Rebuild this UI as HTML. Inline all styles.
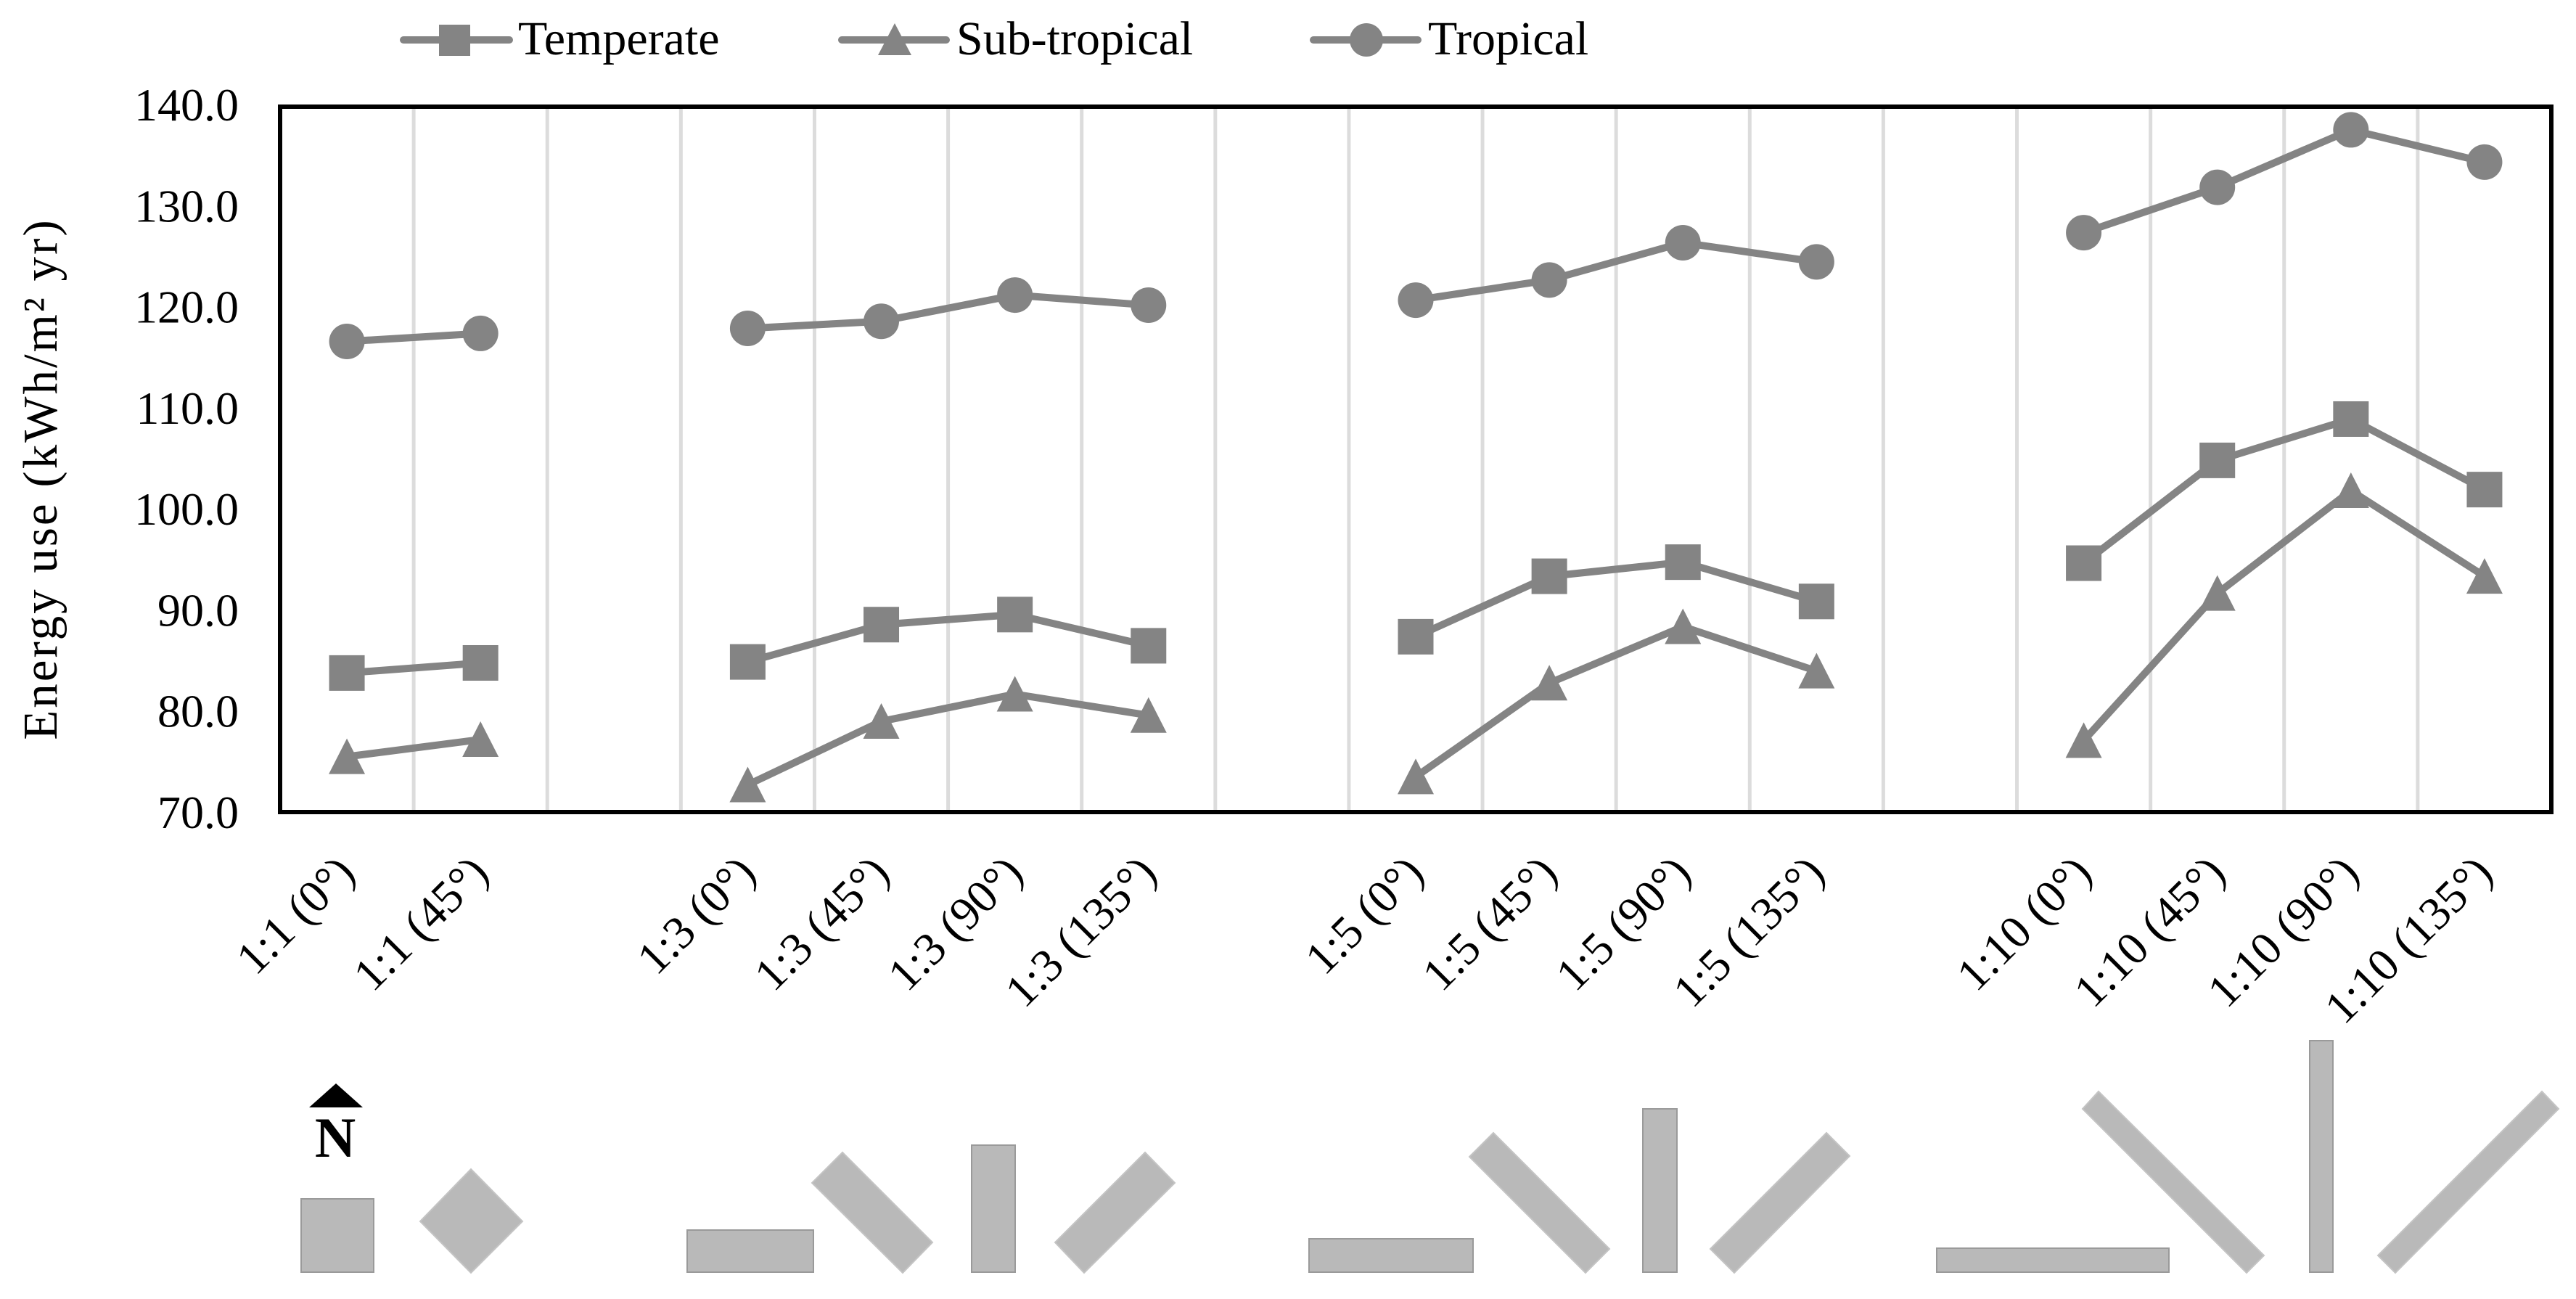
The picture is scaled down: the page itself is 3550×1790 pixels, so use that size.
<!DOCTYPE html>
<html lang="en">
<head>
<meta charset="utf-8">
<title>Energy use by aspect ratio and orientation</title>
<style>
html,body{margin:0;padding:0;background:#fff;}
svg{display:block;font-family:"Liberation Serif",serif;}
</style>
</head>
<body>
<svg id="chart" xmlns="http://www.w3.org/2000/svg" width="3550" height="1790" viewBox="0 0 3550 1790">
  <rect x="0" y="0" width="3550" height="1790" fill="#ffffff"/>
  <g id="grid"></g>
  <g id="series"></g>
  <rect x="386" y="147" width="3130" height="972" fill="none" stroke="#000" stroke-width="6"/>
  <g id="yticks"></g>
  <g id="xticks"></g>
  <text transform="translate(78,660) rotate(-90)" text-anchor="middle" font-size="67" letter-spacing="3" fill="#000">Energy use (kWh/m² yr)</text>

  <g>
    <g>
      <line x1="556" y1="55" x2="702" y2="55" stroke="#848484" stroke-width="10" stroke-linecap="round"/>
      <rect x="605" y="34" width="43" height="43" fill="#848484"/>
      <text x="714" y="75" font-size="66" fill="#000">Temperate</text>
    </g>
    <g>
      <line x1="1160" y1="55" x2="1304" y2="55" stroke="#848484" stroke-width="10" stroke-linecap="round"/>
      <polygon points="1233,32 1256,76 1210,76" fill="#848484"/>
      <text x="1318" y="75" font-size="66" fill="#000">Sub-tropical</text>
    </g>
    <g>
      <line x1="1810" y1="55" x2="1954" y2="55" stroke="#848484" stroke-width="10" stroke-linecap="round"/>
      <circle cx="1883" cy="55" r="23" fill="#848484"/>
      <text x="1968" y="75" font-size="66" fill="#000">Tropical</text>
    </g>
  </g>

  <g>
    <polygon points="463,1493 500,1526 426,1526" fill="#000"/>
    <text x="462" y="1594" text-anchor="middle" font-size="78" font-weight="bold" fill="#000">N</text>
  </g>

  <g fill="#b9b9b9" stroke="#9a9a9a" stroke-width="2">
    <rect x="415" y="1652" width="100" height="101"/>
    <polygon points="649,1611 720,1683 649,1754 579,1683" stroke="#c4c4c4"/>
    <rect x="947" y="1695" width="174" height="58"/>
    <polygon points="1161,1588 1285,1712 1244,1754 1119,1630" stroke="#c4c4c4"/>
    <rect x="1339" y="1578" width="60" height="175"/>
    <polygon points="1578,1588 1619,1630 1494,1754 1454,1712" stroke="#c4c4c4"/>
    <rect x="1804" y="1707" width="226" height="46"/>
    <polygon points="2058,1561 2218,1721 2185,1754 2025,1594" stroke="#c4c4c4"/>
    <rect x="2264" y="1528" width="47" height="225"/>
    <polygon points="2517,1561 2549,1593 2390,1754 2357,1721" stroke="#c4c4c4"/>
    <rect x="2669" y="1720" width="320" height="33"/>
    <polygon points="2892,1504 3120,1730 3096,1754 2870,1528" stroke="#c4c4c4"/>
    <rect x="3183" y="1434" width="32" height="319"/>
    <polygon points="3503,1504 3526,1528 3301,1754 3277,1730" stroke="#c4c4c4"/>
  </g>
</svg>
<script>
var categories = ["1:1 (0°)","1:1 (45°)","","1:3 (0°)","1:3 (45°)","1:3 (90°)","1:3 (135°)","","1:5 (0°)","1:5 (45°)","1:5 (90°)","1:5 (135°)","","1:10 (0°)","1:10 (45°)","1:10 (90°)","1:10 (135°)"];
var temperate = [83.8,84.8,null,84.9,88.6,89.6,86.5,null,87.4,93.4,94.8,90.9,null,94.7,104.9,109.0,102.0];
var subTropical = [75.5,77.2,null,72.7,79.0,81.7,79.6,null,73.5,82.8,88.4,84.0,null,77.1,91.7,101.9,93.4];
var tropical = [116.7,117.5,null,118.0,118.7,121.3,120.3,null,120.8,122.8,126.5,124.6,null,127.5,132.0,137.7,134.5];
var yTicks = [70,80,90,100,110,120,130,140];

var NS = 'http://www.w3.org/2000/svg';
var LEFT = 386, RIGHT = 3516, TOP = 147, BOTTOM = 1119, YMIN = 70, YMAX = 140;
var COLOR = '#848484';
var step = (RIGHT - LEFT) / categories.length;
function xScale(i) { return LEFT + (i + 0.5) * step; }
function yScale(v) { return BOTTOM - (v - YMIN) / (YMAX - YMIN) * (BOTTOM - TOP); }
function make(tag, parent) {
  var el = document.createElementNS(NS, tag);
  parent.appendChild(el);
  return el;
}

var gridLayer = document.getElementById('grid');
for (var g = 1; g < categories.length; g++) {
  var gl = make('line', gridLayer);
  
  
  gl.setAttribute('x1', LEFT + g * step);
  gl.setAttribute('x2', LEFT + g * step);
  gl.setAttribute('y1', TOP);
  gl.setAttribute('y2', BOTTOM);
  gl.setAttribute('stroke', '#dcdcdc');
  gl.setAttribute('stroke-width', '5');
}

var yLayer = document.getElementById('yticks');
yTicks.forEach(function (t) {
  var el = make('text', yLayer);
  
  
  el.setAttribute('x', 329);
  el.setAttribute('y', yScale(t) + 22 - (t - YMIN) / (YMAX - YMIN) * 3);
  el.setAttribute('text-anchor', 'end');
  el.setAttribute('font-size', '64');
  el.setAttribute('fill', '#000');
  el.textContent = t.toFixed(1);
});

var xLayer = document.getElementById('xticks');
categories.forEach(function (c, i) {
  if (!c) return;
  var el = make('text', xLayer);
  
  
  el.setAttribute('transform', 'translate(' + (xScale(i) + 14) + ',1206) rotate(-45)');
  el.setAttribute('text-anchor', 'end');
  el.setAttribute('font-size', '64');
  el.setAttribute('fill', '#000');
  el.textContent = c;
});

function drawSeries(name, values, marker) {
  var layer = document.getElementById('series');
  var group = make('g', layer);
  
  
  var run = [];
  function flush() {
    if (run.length > 1) {
      var pl = make('polyline', group);
      
      
      pl.setAttribute('points', run.join(' '));
      pl.setAttribute('fill', 'none');
      pl.setAttribute('stroke', COLOR);
      pl.setAttribute('stroke-width', '10');
      pl.setAttribute('stroke-linejoin', 'round');
    }
    run = [];
  }
  for (var i = 0; i < values.length; i++) {
    if (values[i] === null) { flush(); continue; }
    run.push(xScale(i) + ',' + yScale(values[i]));
  }
  flush();
  for (var k = 0; k < values.length; k++) {
    if (values[k] === null) continue;
    var x = xScale(k), y = yScale(values[k]), m;
    if (marker === 'square') {
      m = make('rect', group);
      m.setAttribute('x', x - 24.5);
      m.setAttribute('y', y - 24.5);
      m.setAttribute('width', 49);
      m.setAttribute('height', 49);
    } else if (marker === 'triangle') {
      m = make('polygon', group);
      m.setAttribute('points', x + ',' + (y - 25) + ' ' + (x + 25) + ',' + (y + 24) + ' ' + (x - 25) + ',' + (y + 24));
    } else {
      m = make('circle', group);
      m.setAttribute('cx', x);
      m.setAttribute('cy', y);
      m.setAttribute('r', 24.5);
    }
    
    
    m.setAttribute('fill', COLOR);
  }
}
drawSeries('temperate', temperate, 'square');
drawSeries('sub-tropical', subTropical, 'triangle');
drawSeries('tropical', tropical, 'circle');
</script>
</body>
</html>
